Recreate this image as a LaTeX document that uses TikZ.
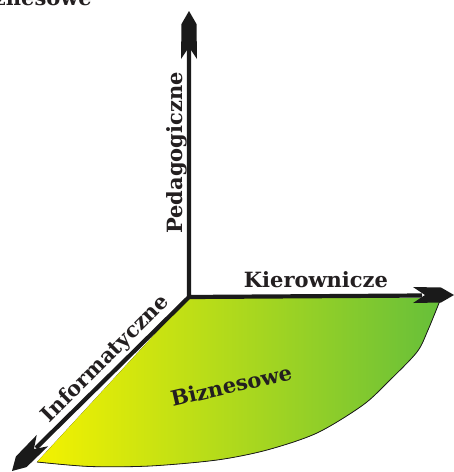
\documentclass[tikz,border=0pt]{standalone}
\usepackage{fontspec}
\setmainfont{DejaVu Serif}
\definecolor{axiscol}{HTML}{1A1A1A}
\definecolor{txtcol}{HTML}{231F20}
\definecolor{yelL}{HTML}{F4F200}
\definecolor{midC}{HTML}{B9DE08}
\definecolor{grnR}{HTML}{66BF3A}
\begin{document}
\begin{tikzpicture}[x=1pt,y=-1pt,
  lbl/.style={font=\fontsize{21}{25}\selectfont\bfseries, text=txtcol, inner sep=0pt},
  axisline/.style={draw=axiscol, line width=4.2pt},
  alen/.store in=\alen, alen=44,
  arrowhd/.pic={\fill[axiscol] (0,0) -- (-13,7.5) -- (-\alen,8) -- ({-\alen+12},0) -- (-\alen,-8) -- (-13,-7.5) -- cycle;}]
\useasboundingbox (0,0) rectangle (454,472);
\clip (0,0) rectangle (454,472);
\coordinate (O) at (189,297);
\coordinate (Vtip) at (189,11);
\coordinate (Htip) at (454,295);
\coordinate (Dtip) at (12,471);
\coordinate (Vend) at (189,46);
\coordinate (Hend) at (422,295.5);
\coordinate (Dend) at (36,448);
% green sector
\fill[left color=yelL, middle color=midC, right color=grnR]
  (O) -- plot[smooth] coordinates {(441,298) (428,330) (417,352) (390,380) (363,405) (317,433) (267,450) (217,460) (150,466) (90,466.5) (37,462)} -- cycle;
\draw[axiscol, line width=0.8pt]
  plot[smooth] coordinates {(441,298) (428,330) (417,352) (390,380) (363,405) (317,433) (267,450) (217,460) (150,466) (90,466.5) (37,462)};
% axes
\draw[axisline, line join=miter] (Vend) -- (O) -- (Hend);
\draw[axisline] (O) -- (Dend);
\pic[rotate=90, alen=48] at (Vtip) {arrowhd};
\pic[rotate=0, alen=41] at (Htip) {arrowhd};
\pic[rotate=225, alen=43] at (Dtip) {arrowhd};
% labels
\node[lbl, anchor=base] (kier) at (316,287) {Kierownicze};
\node[lbl, anchor=base, rotate=90] (ped) at (182,153) {Pedagogiczne};
\node[lbl, anchor=base, rotate=45] (inf) at (110,363) {Informatyczne};
\node[lbl, anchor=base, rotate=13] (biz) at (233,393) {Biznesowe};
\node[lbl, anchor=base east] (biztop) at (92,5) {Biznesowe};
\end{tikzpicture}
\end{document}
